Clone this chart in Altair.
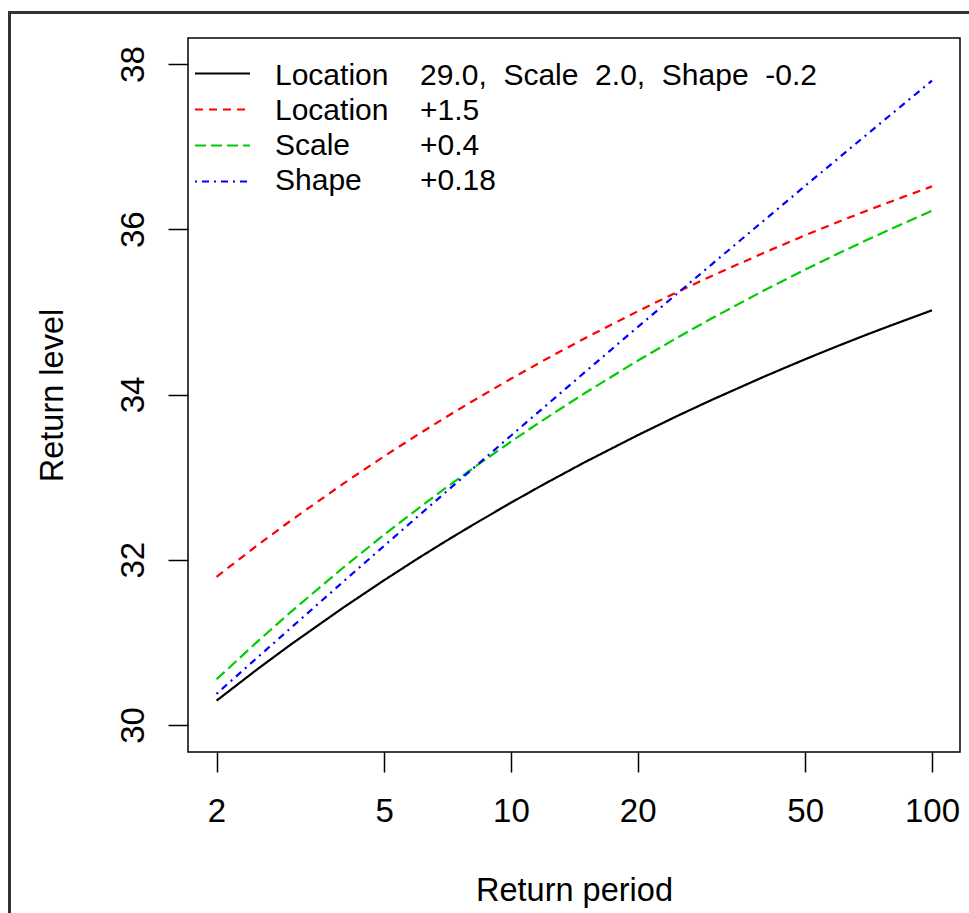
import altair as alt
import pandas as pd

FONT = "Liberation Sans"

# Return periods (x) and return levels (y)
periods = [2, 2.5, 3, 4, 5, 6, 7, 8, 10, 12, 15, 20, 25, 30, 40, 50, 60, 70, 80, 100]
level_base = [30.294, 30.675, 30.973, 31.421, 31.752, 32.012, 32.224, 32.402, 32.690, 32.916,
              33.182, 33.507, 33.747, 33.935, 34.218, 34.427, 34.591, 34.725, 34.837, 35.019]
level_loc = [31.794, 32.175, 32.473, 32.921, 33.252, 33.512, 33.724, 33.902, 34.190, 34.416,
             34.682, 35.007, 35.247, 35.435, 35.718, 35.927, 36.091, 36.225, 36.337, 36.519]
level_scale = [30.553, 31.009, 31.367, 31.906, 32.303, 32.614, 32.869, 33.083, 33.429, 33.700,
               34.018, 34.409, 34.696, 34.922, 35.262, 35.512, 35.709, 35.869, 36.005, 36.223]
level_shape = [30.377, 30.816, 31.173, 31.735, 32.168, 32.520, 32.817, 33.074, 33.501, 33.848,
               34.272, 34.816, 35.235, 35.576, 36.112, 36.526, 36.862, 37.146, 37.391, 37.799]

series_keys = ["base", "loc", "scale", "shape"]
series_colors = ["#000000", "#FF0000", "#00CD00", "#0000FF"]
series_dashes = [[1, 0], [8, 6], [11, 5], [2, 5, 7, 5]]
legend_names = ["Location", "Location", "Scale", "Shape"]
legend_values = ["29.0,  Scale  2.0,  Shape  -0.2", "+1.5", "+0.4", "+0.18"]

x_ticks = [2, 5, 10, 20, 50, 100]
y_ticks = [30, 32, 34, 36, 38]

rows = []
for key, vals in zip(series_keys, [level_base, level_loc, level_scale, level_shape]):
    for p, v in zip(periods, vals):
        rows.append({"series": key, "period": p, "level": v})
df = pd.DataFrame(rows)

leg = pd.DataFrame({
    "row": list(range(len(series_keys))),
    "series": series_keys,
    "name": legend_names,
    "value": [s.replace(" ", "\u00a0") for s in legend_values],
})

color_enc = alt.Color("series:N", scale=alt.Scale(domain=series_keys, range=series_colors), legend=None)
dash_enc = alt.StrokeDash("series:N", scale=alt.Scale(domain=series_keys, range=series_dashes), legend=None)

lines = alt.Chart(df).mark_line(strokeWidth=2.2).encode(
    x=alt.X("period:Q",
            scale=alt.Scale(type="log", domain=[1.711, 116.55], nice=False, zero=False),
            axis=alt.Axis(values=x_ticks, format="d", title="Return period",
                          labelPadding=23, titleY=148, titleBaseline="alphabetic")),
    y=alt.Y("level:Q",
            scale=alt.Scale(domain=[29.673, 38.315], nice=False, zero=False),
            axis=alt.Axis(values=y_ticks, format="d", title="Return level",
                          labelAngle=270, labelAlign="center", labelBaseline="alphabetic",
                          labelPadding=25, titleAngle=270, titleX=-126, titleY=357,
                          titleAlign="center", titleBaseline="alphabetic")),
    color=color_enc,
    strokeDash=dash_enc,
    detail="series:N",
)

frame = alt.Chart(pd.DataFrame({"a": [0]})).mark_rect(
    fillOpacity=0, stroke="#333333", strokeWidth=3
).encode(x=alt.value(-178.5), x2=alt.value(800), y=alt.value(-25.5), y2=alt.value(900))

leg_lines = alt.Chart(leg).mark_rule(strokeWidth=2).transform_calculate(
    ly="35.5 + datum.row * 36"
).encode(
    x=alt.value(7), x2=alt.value(62),
    y=alt.Y("ly:Q", scale=None, axis=None),
    color=color_enc,
    strokeDash=dash_enc,
)

leg_names = alt.Chart(leg).mark_text(
    align="left", baseline="alphabetic", fontSize=30, font=FONT, color="black"
).transform_calculate(
    ty="46.5 + datum.row * 35.2"
).encode(
    x=alt.value(87),
    y=alt.Y("ty:Q", scale=None, axis=None),
    text="name:N",
)

leg_vals = alt.Chart(leg).mark_text(
    align="left", baseline="alphabetic", fontSize=30, font=FONT, color="black"
).transform_calculate(
    ty="46.5 + datum.row * 35.2"
).encode(
    x=alt.value(232),
    y=alt.Y("ty:Q", scale=None, axis=None),
    text="value:N",
)

chart = alt.layer(frame, lines, leg_lines, leg_names, leg_vals).resolve_scale(
    y="independent"
).properties(
    width=772, height=714,
    autosize=alt.AutoSizeParams(type="none"),
    padding={"left": 188, "top": 38, "right": 9, "bottom": 161},
    background="white",
).configure_view(
    stroke="black", strokeWidth=1.5
).configure_axis(
    domain=False, grid=False,
    tickSize=20, tickColor="black", tickWidth=1.5,
    labelFont=FONT, labelFontSize=33, labelColor="black",
    labelFlush=False, labelOverlap=False,
    titleFont=FONT, titleFontSize=32.5, titleFontWeight="normal", titleColor="black",
)

chart.save("out.html", embed_options={"renderer": "svg", "actions": False})
